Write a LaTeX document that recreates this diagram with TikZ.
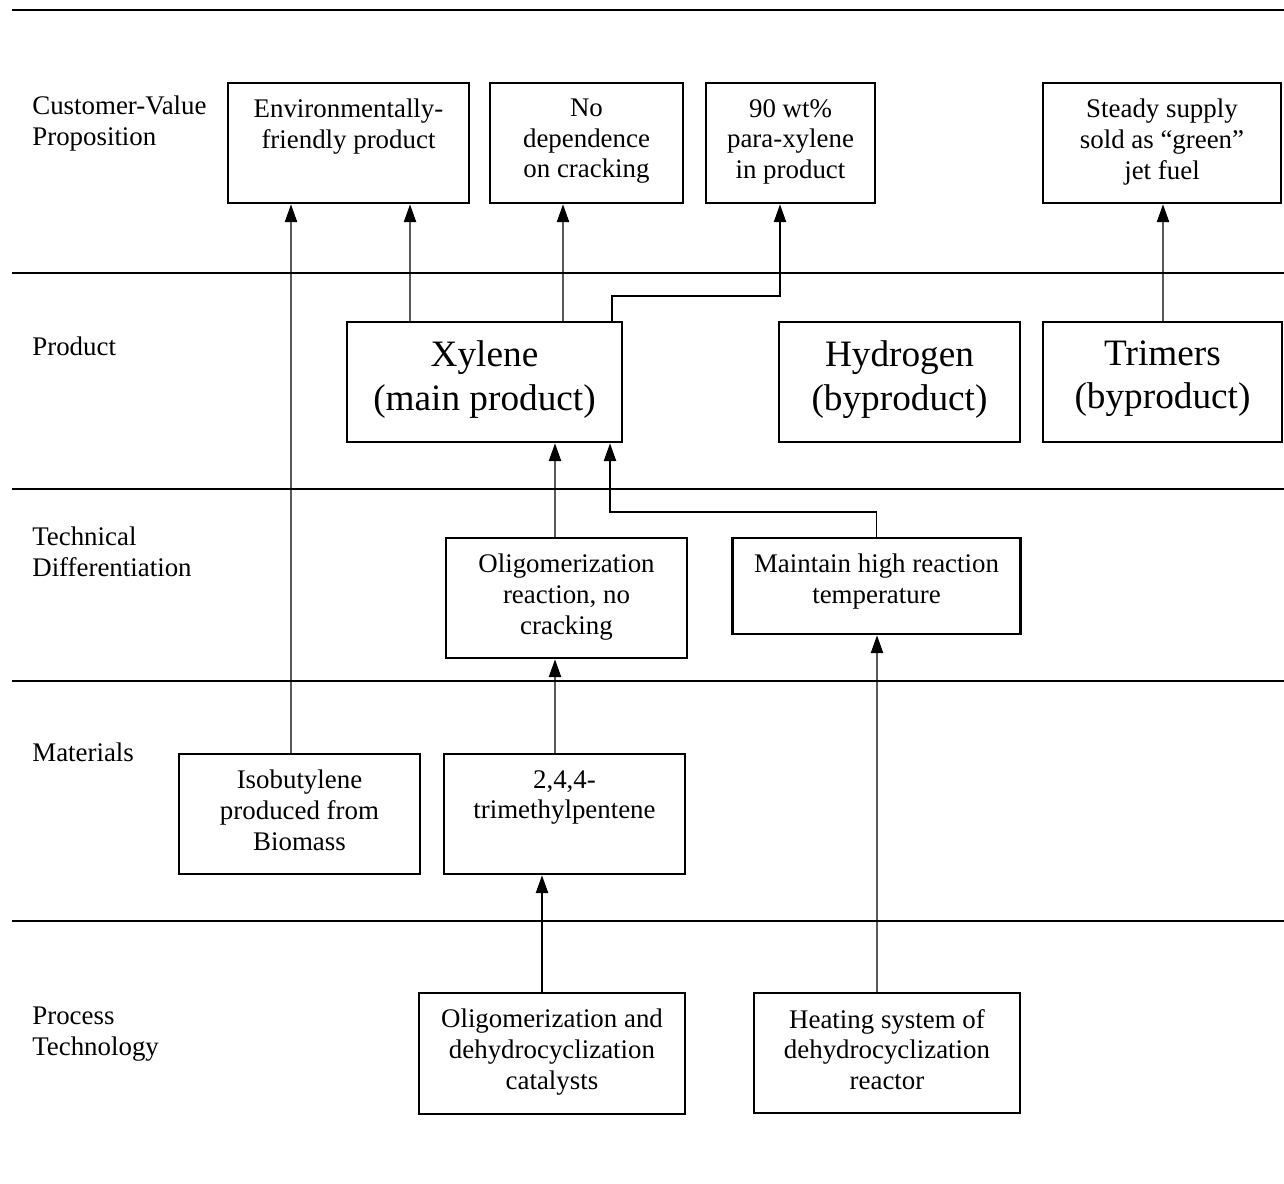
\documentclass[tikz,border=0pt]{standalone}
\usepackage{fontspec}
\setmainfont{Liberation Serif}
\usetikzlibrary{arrows.meta}

\newcommand{\smalltxt}{\fontsize{15.3}{17.4}\selectfont}
\newcommand{\bigtxt}{\fontsize{21.2}{24.8}\selectfont}
% box text: [top padding]{width}{height}{lines}
\newcommand{\cell}[4][0.32cm]{\parbox[c][#3][t]{#2}{\centering\vspace*{#1}#4}}

\begin{document}
\begin{tikzpicture}[
	box/.style={draw, line width=1.4pt, inner sep=0pt, anchor=north, font=\smalltxt},
	bigbox/.style={box, font=\bigtxt},
	lbl/.style={anchor=north west, align=left, inner sep=0pt, font=\smalltxt},
	rule/.style={line width=0.8pt},
	arr/.style={line width=0.6pt, -{Triangle[length=10pt,width=7pt]}}
]
	\useasboundingbox (0,0) rectangle (25.68,23.68);
	%\draw[help lines] (0,0) grid (25,23);
	\foreach \y in {23.48,18.22,13.90,10.06,5.26}
		\draw[rule] (0.24,\y) -- (25.68,\y);

	% row names
	\node[lbl] (cvp) at (0.64,21.76) {Customer-Value\\Proposition};
	\node[lbl] (prod) at (0.64,16.94) {Product};
	\node[lbl] (tdiff) at (0.64,13.14) {Technical\\Differentiation};
	\node[lbl] (mat) at (0.64,8.82) {Materials};
	\node[lbl] (ptech) at (0.64,3.54) {Process\\Technology};

	% customer value
	\node[box] (env) at (6.97,22.04) {\cell{4.82cm}{2.4cm}{Environmentally-\\friendly product}};
	\node[box] (nodep) at (11.73,22.04) {\cell{3.86cm}{2.4cm}{No\\dependence\\on cracking}};
	\node[box] (wt) at (15.81,22.04) {\cell{3.38cm}{2.4cm}{90 wt\%\\para-xylene\\in product}};
	\node[box] (steady) at (23.24,22.04) {\cell{4.76cm}{2.4cm}{Steady supply\\sold as ``green''\\jet fuel}};

	% product
	\node[bigbox] (xyl) at (9.69,17.26) {\cell[0.37cm]{5.5cm}{2.4cm}{Xylene\\(main product)}};
	\node[bigbox] (hyd) at (17.99,17.26) {\cell[0.37cm]{4.82cm}{2.4cm}{Hydrogen\\(byproduct)}};
	\node[bigbox] (trim) at (23.25,17.26) {\cell[0.37cm]{4.78cm}{2.4cm}{Trimers\\(byproduct)}};

	% technical differentiation
	\node[box] (olr) at (11.33,12.94) {\cell{4.82cm}{2.4cm}{Oligomerization\\reaction, no\\cracking}};
	\node[box] (mhr) at (17.53,12.94) {\cell{5.76cm}{1.92cm}{Maintain high reaction\\temperature}};

	% materials
	\node[box] (isob) at (5.99,8.62) {\cell{4.82cm}{2.4cm}{Isobutylene\\produced from\\Biomass}};
	\node[box] (tmp) at (11.29,8.62) {\cell{4.82cm}{2.4cm}{2,4,4-\\trimethylpentene}};

	% process technology
	\node[box] (cat) at (11.04,3.84) {\cell{5.32cm}{2.42cm}{Oligomerization and\\dehydrocyclization\\catalysts}};
	\node[box] (heat) at (17.74,3.84) {\cell{5.32cm}{2.4cm}{Heating system of\\dehydrocyclization\\reactor}};

	% links
	\draw[arr] ([xshift=-0.17cm]isob.north) -- ([xshift=-1.15cm]env.south);
	\draw[arr] ([xshift=-1.49cm]xyl.north) -- ([xshift=1.23cm]env.south);
	\draw[arr] ([xshift=1.57cm]xyl.north) -- ([xshift=-0.47cm]nodep.south);
	\draw[arr] ([xshift=2.55cm]xyl.north) -- ++(0,0.5) -| ([xshift=-0.21cm]wt.south);
	\draw[arr] ([xshift=0.01cm]trim.north) -- ([xshift=0.02cm]steady.south);
	\draw[arr] ([xshift=-0.23cm]olr.north) -- ([xshift=1.41cm]xyl.south);
	\draw[arr] (mhr.north) -- ++(0,0.5) -| ([xshift=2.51cm]xyl.south);
	\draw[arr] ([xshift=-0.19cm]tmp.north) -- ([xshift=-0.23cm]olr.south);
	\draw[arr] ([xshift=-0.20cm]cat.north) -- ([xshift=-0.45cm]tmp.south);
	\draw[arr] ([xshift=-0.20cm]heat.north) -- ([xshift=0.01cm]mhr.south);
\end{tikzpicture}
\end{document}
